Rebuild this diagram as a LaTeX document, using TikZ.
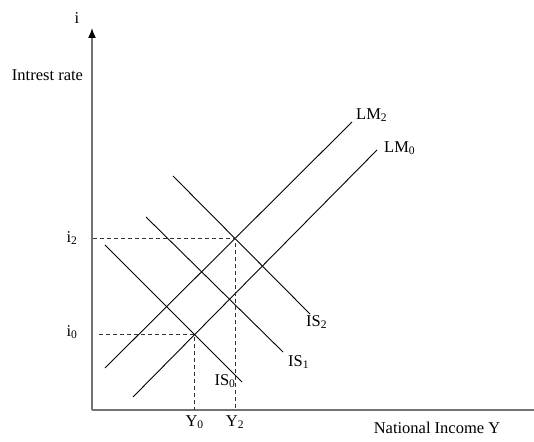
\documentclass[tikz,border=0pt]{standalone}
\usepackage{fontspec}
\setmainfont{Liberation Serif}
\usepackage{tikz}
\usetikzlibrary{arrows.meta, positioning, calc}

\begin{document}
\begin{tikzpicture}[x=1pt, y=1pt, font=\fontsize{16.5}{18}\selectfont,
  axis/.style={draw=black!55, line width=1.5pt},
  curve/.style={draw=black, line width=0.9pt},
  guide/.style={draw=black!80, line width=0.8pt, dash pattern=on 4pt off 3pt}]
\useasboundingbox (-92, -31) rectangle (442, 410);
% axes
\coordinate (O) at (0, 0);
\coordinate (ytip) at (0, 382);
\coordinate (xend) at (452, 0);
\draw[axis, -{Latex[length=10pt, width=8pt, black]}] (O) -- (ytip);
\draw[axis, -{Latex[length=10pt, width=8pt, black]}] (O) -- (xend);
\node (ilab) at (-15, 392) {i};
\node (ylab) at (-44.5, 335) {Intrest rate};
\node (xlab) at (345, -18) {National Income Y};
% curves
\coordinate (is0a) at (13, 165);  \coordinate (is0b) at (150, 28);
\coordinate (is1a) at (54, 193);  \coordinate (is1b) at (191, 58);
\coordinate (is2a) at (81, 234);  \coordinate (is2b) at (218, 96);
\coordinate (lm0a) at (41, 13);   \coordinate (lm0b) at (285, 260);
\coordinate (lm2a) at (13, 42);   \coordinate (lm2b) at (260, 288);
\draw[curve] (is0a) -- (is0b);
\draw[curve] (is1a) -- (is1b);
\draw[curve] (is2a) -- (is2b);
\draw[curve] (lm0a) -- (lm0b);
\draw[curve] (lm2a) -- (lm2b);
\node[anchor=west, inner sep=1pt] (lm2) at (263, 295) {LM\textsubscript{2}};
\node[anchor=west, inner sep=1pt] (lm0) at (291, 262) {LM\textsubscript{0}};
\node[anchor=west, inner sep=1pt] (is2) at (213, 88) {IS\textsubscript{2}};
\node[anchor=west, inner sep=1pt] (is1) at (195, 48) {IS\textsubscript{1}};
\node (is0) at (133, 29) {IS\textsubscript{0}};
% equilibria
\coordinate (E0) at (intersection of is0a--is0b and lm0a--lm0b);
\coordinate (E2) at (intersection of is2a--is2b and lm2a--lm2b);
\coordinate (i0) at (O |- E0);
\coordinate (i2) at (O |- E2);
\coordinate (y0) at (O -| E0);
\coordinate (y2) at (O -| E2);
\draw[guide] ($(i0)+(7,0)$) -- (E0) -- (y0);
\draw[guide] ($(i2)+(1,0)$) -- (E2) -- (y2);
\node (i0lab) at (-20, 78) {i\textsubscript{0}};
\node (i2lab) at (-20, 172) {i\textsubscript{2}};
\node[below=2pt of y0] (y0lab) {Y\textsubscript{0}};
\node[below=2pt of y2] (y2lab) {Y\textsubscript{2}};
\end{tikzpicture}
\end{document}
